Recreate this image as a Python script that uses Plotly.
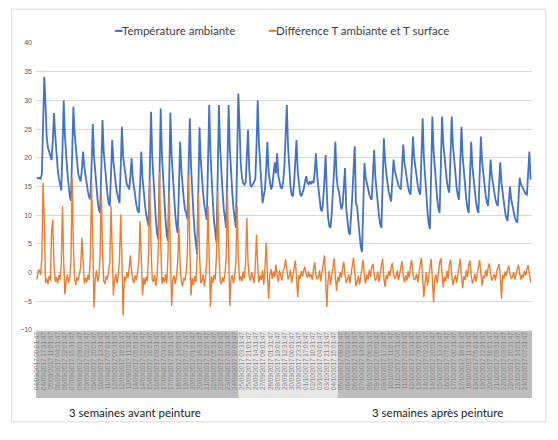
import pandas as pd
import plotly.graph_objects as go

# Relevés toutes les 3 h (heure dans la journée), une ligne = un jour
debut = pd.Timestamp("2017-09-04 00:01:47")
heures_releve = [0, 3, 6, 9, 12, 15, 18, 21]

# Température ambiante (°C)
temp_ambiante = [
    16.6, 16.4, 16.5, 16.3, 17.2, 24.0, 34.1, 29.5,
    23.5, 21.8, 20.9, 20.2, 19.6, 23.0, 27.8, 24.0,
    20.4, 18.2, 16.5, 15.0, 14.3, 21.5, 30.0, 23.9,
    20.1, 17.6, 15.4, 13.3, 12.5, 20.0, 28.9, 24.3,
    21.6, 19.5, 17.2, 16.4, 15.9, 18.0, 21.1, 18.4,
    16.6, 15.2, 14.1, 13.1, 12.8, 18.5, 25.9, 20.3,
    17.2, 14.8, 12.6, 11.0, 10.4, 18.0, 26.6, 21.0,
    18.2, 16.0, 13.8, 12.1, 11.6, 17.0, 23.1, 19.4,
    17.0, 15.3, 13.9, 12.6, 12.1, 18.3, 25.4, 20.2,
    18.5, 16.8, 15.4, 15.0, 14.5, 16.8, 19.9, 16.4,
    14.6, 13.0, 11.7, 10.8, 10.4, 15.5, 21.1, 16.5,
    13.8, 11.9, 10.2, 8.8, 8.1, 17.5, 28.0, 20.2,
    15.6, 12.3, 9.2, 6.8, 5.8, 16.5, 28.6, 20.5,
    15.8, 12.2, 9.1, 6.6, 5.5, 16.0, 27.9, 20.4,
    16.2, 13.0, 10.2, 8.0, 6.9, 14.3, 22.8, 18.0,
    15.0, 12.8, 11.0, 10.4, 9.3, 17.2, 26.9, 18.6,
    13.6, 10.2, 6.9, 4.4, 3.2, 14.0, 25.3, 19.7,
    16.2, 13.8, 11.7, 10.0, 9.2, 19.0, 29.2, 20.8,
    15.8, 12.3, 8.9, 6.3, 5.2, 17.0, 29.2, 21.7,
    17.2, 14.1, 11.1, 8.8, 7.8, 18.5, 29.2, 21.7,
    17.3, 14.0, 11.2, 8.9, 7.8, 19.5, 31.2, 25.7,
    19.0, 16.6, 15.6, 15.3, 15.6, 20.0, 24.9, 18.0,
    15.2, 15.0, 15.4, 15.8, 16.2, 22.0, 30.0, 22.5,
    18.5, 14.6, 12.1, 13.4, 14.6, 18.2, 22.8, 17.4,
    15.6, 14.5, 15.1, 16.8, 19.2, 17.3, 20.8, 16.9,
    15.4, 14.8, 14.7, 15.8, 18.5, 24.0, 29.2, 22.0,
    17.4, 15.1, 13.5, 13.3, 15.6, 19.0, 23.1, 17.6,
    14.9, 13.7, 13.3, 13.9, 14.6, 15.9, 16.8, 15.6,
    15.4, 15.9, 15.4, 16.0, 15.6, 17.6, 20.8, 16.8,
    14.6, 12.4, 11.0, 10.7, 12.6, 16.2, 20.5, 13.8,
    9.6, 8.1, 7.8, 10.2, 13.6, 18.0, 22.8, 16.8,
    14.8, 14.2, 12.4, 11.0, 11.8, 15.2, 18.2, 11.2,
    8.6, 7.1, 6.6, 9.4, 13.4, 17.8, 22.0, 12.0,
    11.5, 8.8, 6.2, 4.4, 3.6, 11.3, 19.1, 16.6,
    15.4, 14.5, 13.6, 13.0, 12.7, 17.0, 21.4, 16.6,
    13.8, 11.9, 9.9, 8.4, 7.8, 15.5, 23.4, 19.5,
    17.2, 15.6, 14.1, 12.9, 12.4, 16.0, 19.7, 17.8,
    16.9, 16.0, 15.2, 14.8, 14.5, 18.3, 22.3, 19.2,
    17.4, 16.1, 14.9, 14.0, 13.6, 18.6, 23.7, 20.1,
    18.0, 16.5, 15.1, 14.1, 13.6, 20.2, 26.9, 20.1,
    16.2, 13.3, 10.6, 8.5, 7.6, 17.4, 27.2, 21.3,
    17.9, 15.3, 12.9, 11.1, 10.4, 18.8, 27.2, 22.5,
    19.8, 17.8, 15.9, 14.6, 13.9, 20.5, 27.2, 22.1,
    19.2, 17.0, 14.9, 13.4, 12.7, 19.0, 25.4, 20.2,
    17.1, 14.9, 12.7, 11.1, 10.4, 16.6, 22.8, 18.5,
    15.9, 14.1, 12.3, 11.0, 10.4, 17.0, 23.7, 19.4,
    17.0, 15.2, 13.4, 12.2, 11.6, 15.6, 19.7, 16.8,
    15.2, 14.0, 12.8, 12.0, 11.6, 15.4, 19.2, 15.6,
    13.5, 12.0, 10.5, 9.5, 9.0, 12.0, 15.0, 12.8,
    11.5, 10.6, 9.6, 9.0, 8.7, 12.6, 16.5, 15.4,
    14.9, 14.4, 14.0, 13.7, 13.6, 17.3, 21.1, 16.2,
]

# Différence T ambiante - T surface (°C)
diff_temp = [
    -1.2, 0.3, 0.5, -0.4, 2.5, 15.6, 9.0, -1.8,
    -1.0, -2.0, -0.6, -1.4, 7.2, 9.2, 1.2, -1.6,
    -0.8, -1.9, -0.5, -1.2, 1.5, 11.6, 2.0, -3.8,
    -1.5, -0.3, -1.8, -0.9, 2.2, 16.5, 4.5, -1.1,
    -2.2, -0.8, -1.4, 0.2, 1.0, 6.1, 0.8, -1.9,
    -0.9, -1.7, -0.4, -1.3, 3.0, 15.6, 5.2, -6.1,
    -1.1, 0.4, -1.6, -0.7, 2.8, 14.5, 3.5, -1.4,
    -2.0, -0.6, -1.2, 0.3, 1.6, 11.6, 1.9, -4.0,
    -1.3, -0.2, -1.9, -0.5, 2.4, 10.1, 2.6, -7.5,
    -0.7, -1.5, 0.1, -1.0, 0.8, 3.0, 0.4, -1.2,
    -1.8, -0.5, -1.3, 0.2, 1.8, 9.0, 1.5, -4.0,
    -0.9, -2.1, -0.7, -1.5, 3.5, 16.2, 4.8, -1.3,
    -1.6, -0.4, -2.3, -0.8, 4.0, 17.5, 5.5, -2.0,
    -0.8, -1.7, -0.3, -1.9, 2.6, 14.2, 3.0, -5.8,
    -1.2, -0.5, -2.0, -0.6, 1.9, 8.0, 1.3, -1.6,
    -2.4, -0.9, -1.4, 0.1, 3.2, 17.0, 4.9, -4.0,
    -1.0, -2.2, -0.6, -1.7, 2.9, 13.9, 3.4, -1.8,
    -1.5, -0.3, -2.4, -0.9, 2.2, 11.6, 2.5, -6.0,
    -0.7, -1.8, -0.4, -1.2, 3.1, 14.2, 3.9, -1.5,
    -2.0, -0.8, -1.6, -0.2, 2.7, 14.2, 3.6, -5.8,
    -1.1, -0.4, -1.9, -0.6, 2.0, 11.6, 2.8, -1.4,
    -0.6, -1.5, 0.2, -1.0, 1.6, 9.5, 1.8, -0.8,
    -1.4, 0.1, -0.9, -1.8, 1.2, 6.6, 1.0, -1.7,
    -0.5, -1.3, 0.4, -2.1, 0.9, 5.2, -0.3, -4.6,
    -0.3, 0.6, -1.1, 0.2, -0.8, 1.4, -0.5, -1.6,
    0.4, -0.7, -1.4, 0.3, 0.9, 2.3, -0.2, -1.2,
    -0.6, 0.5, -1.8, -0.3, 0.7, 2.1, -0.9, -4.3,
    -0.4, -1.1, 0.3, -0.7, 0.5, 1.0, -0.3, -0.9,
    0.2, -0.8, -0.3, -1.3, 0.6, 1.8, -0.4, -1.1,
    -0.9, 0.4, -1.5, -0.2, 1.1, 3.0, -1.2, -6.0,
    -1.4, 0.3, -2.2, -0.5, 1.3, 2.5, -0.8, -3.2,
    -0.7, -1.6, 0.1, -0.9, 0.8, 1.9, -0.4, -1.8,
    -1.2, -0.3, -1.9, 0.2, 1.2, 2.6, -0.6, -2.4,
    -1.6, -0.5, -2.1, -0.4, 0.9, 2.2, -0.7, -1.9,
    -0.3, -1.2, 0.5, -0.8, 1.0, 1.5, -0.2, -1.4,
    -1.0, 0.2, -1.6, -0.5, 1.4, 2.4, -0.9, -2.5,
    -0.4, -1.1, 0.3, -0.6, 0.9, 1.7, -0.3, -1.0,
    -0.8, 0.4, -1.3, -0.2, 1.1, 2.0, -0.6, -1.7,
    -0.5, -1.4, 0.2, -0.9, 1.3, 2.2, -0.4, -1.3,
    -1.1, -0.2, -1.7, 0.3, 1.5, 2.6, -1.0, -4.3,
    -1.8, 0.1, -2.3, -0.6, 1.2, 2.4, -1.1, -5.2,
    -1.0, -0.3, -1.9, 0.2, 1.6, 2.5, -0.8, -2.6,
    -0.7, -1.5, 0.3, -1.1, 1.4, 2.3, -0.5, -2.2,
    -1.2, -0.4, -1.8, -0.2, 1.1, 2.4, -0.7, -2.7,
    -0.6, -1.3, 0.4, -0.8, 1.3, 2.1, -0.4, -1.9,
    -1.3, -0.2, -1.6, 0.1, 1.0, 2.2, -0.6, -2.3,
    -0.5, -1.0, 0.5, -0.7, 0.9, 1.6, -0.2, -1.4,
    -0.9, -0.3, -1.4, 0.2, 0.8, 1.5, -0.5, -4.6,
    -0.4, -1.1, 0.2, -0.6, 0.6, 1.2, -0.3, -1.0,
    -0.8, 0.1, -1.2, -0.4, 0.7, 1.4, -0.2, -1.2,
    -0.3, -0.9, 0.3, -0.5, 0.6, 1.3, -0.1, -1.6,
]

etiquettes_x = [
    "04/09/2017 00:01:47", "04/09/2017 17:31:47", "05/09/2017 11:01:47", "06/09/2017 04:31:47",
    "06/09/2017 22:01:47", "07/09/2017 15:31:47", "08/09/2017 09:01:47", "09/09/2017 02:31:47",
    "09/09/2017 20:01:47", "10/09/2017 13:31:47", "11/09/2017 07:01:47", "12/09/2017 00:31:47",
    "12/09/2017 18:01:47", "13/09/2017 11:31:47", "14/09/2017 05:01:47", "14/09/2017 22:31:47",
    "15/09/2017 16:01:47", "16/09/2017 09:31:47", "17/09/2017 03:01:47", "17/09/2017 20:31:47",
    "18/09/2017 14:01:47", "19/09/2017 07:31:47", "20/09/2017 01:01:47", "20/09/2017 18:31:47",
    "21/09/2017 12:01:47", "22/09/2017 05:31:47", "22/09/2017 23:01:47", "23/09/2017 16:31:47",
    "24/09/2017 10:01:47", "25/09/2017 03:31:47", "25/09/2017 21:01:47", "26/09/2017 14:31:47",
    "27/09/2017 08:01:47", "28/09/2017 01:31:47", "28/09/2017 19:01:47", "29/09/2017 12:31:47",
    "30/09/2017 06:01:47", "30/09/2017 23:31:47", "01/10/2017 17:01:47", "02/10/2017 10:31:47",
    "03/10/2017 04:01:47", "03/10/2017 21:31:47", "04/10/2017 15:01:47", "05/10/2017 08:31:47",
    "06/10/2017 02:01:47", "06/10/2017 19:31:47", "07/10/2017 13:01:47", "08/10/2017 06:31:47",
    "09/10/2017 00:01:47", "09/10/2017 17:31:47", "10/10/2017 11:01:47", "11/10/2017 04:31:47",
    "11/10/2017 22:01:47", "12/10/2017 15:31:47", "13/10/2017 09:01:47", "14/10/2017 02:31:47",
    "14/10/2017 20:01:47", "15/10/2017 13:31:47", "16/10/2017 07:01:47", "17/10/2017 00:31:47",
    "17/10/2017 18:01:47", "18/10/2017 11:31:47", "19/10/2017 05:01:47", "19/10/2017 22:31:47",
    "20/10/2017 16:01:47", "21/10/2017 09:31:47", "22/10/2017 03:01:47", "22/10/2017 20:31:47",
    "23/10/2017 14:01:47", "24/10/2017 07:31:47",
]

# premiers libellés de la période "pendant peinture" et "après peinture"
debut_transition = "25/09/2017 03:31:47"
debut_apres = "05/10/2017 08:31:47"

noms_series = ["Température ambiante", "Différence T ambiante et T surface"]
couleurs = ["#4472C4", "#ED7D31"]

# horodatage des relevés
nb_jours = len(temp_ambiante) // len(heures_releve)
temps = [debut + pd.Timedelta(hours=24 * j + h) for j in range(nb_jours) for h in heures_releve]

ticks = pd.to_datetime(etiquettes_x, format="%d/%m/%Y %H:%M:%S")
demi_pas = (ticks[1] - ticks[0]) / 2
x_min = debut - pd.Timedelta(hours=2.5)
x_max = temps[-1] + pd.Timedelta(hours=3.5)
b1 = pd.to_datetime(debut_transition, format="%d/%m/%Y %H:%M:%S") - demi_pas
b2 = pd.to_datetime(debut_apres, format="%d/%m/%Y %H:%M:%S") - demi_pas

fig = go.Figure()
fig.add_trace(go.Scatter(
    x=temps, y=temp_ambiante, mode="lines", name=noms_series[0],
    line=dict(color=couleurs[0], width=1.8), showlegend=False
))
fig.add_trace(go.Scatter(
    x=temps, y=diff_temp, mode="lines", name=noms_series[1],
    line=dict(color=couleurs[1], width=1.4), showlegend=False
))

# bandes grises sous l'axe
bandes = [(x_min, b1, "#BDBDBD"), (b1, b2, "#E6E6E6"), (b2, x_max, "#BDBDBD")]
for x0, x1, couleur in bandes:
    fig.add_shape(type="rect", xref="x", yref="paper", x0=x0, x1=x1, y0=-0.237, y1=-0.003,
                  fillcolor=couleur, line_width=0, layer="below")

# cadre du graphique
fig.add_shape(type="rect", xref="paper", yref="paper", x0=-0.049, x1=1.028, y0=-0.32, y1=1.118,
              line=dict(color="#D9D9D9", width=1), fillcolor="rgba(0,0,0,0)")

# légende en haut
for nom, couleur, xl in zip(noms_series, couleurs, [0.28, 0.65]):
    fig.add_annotation(
        text=f"<span style='color:{couleur}'>━</span>{nom}", xref="paper", yref="paper",
        x=xl, y=1.042, xanchor="center", yanchor="middle", showarrow=False,
        font=dict(size=11.5, color="#404040")
    )

for texte, xt in [("3 semaines avant peinture", 0.2), ("3 semaines après peinture", 0.81)]:
    fig.add_annotation(text=texte, xref="paper", yref="paper", x=xt, y=-0.286,
                       xanchor="center", yanchor="middle", showarrow=False,
                       font=dict(size=11.5, color="#1a1a1a"))

# la page ajoute 8 px de marge : la figure est réduite d'autant
fig.update_layout(
    width=550, height=432,
    margin=dict(l=28, r=26, t=35, b=110),
    paper_bgcolor="white", plot_bgcolor="white",
    font=dict(family="Lato, Liberation Sans, Arial, sans-serif", color="#595959"),
    showlegend=False,
)
fig.update_xaxes(
    type="date", range=[x_min, x_max], showgrid=False, zeroline=False, showline=False,
    tickmode="array", tickvals=ticks, ticktext=etiquettes_x, tickangle=-90,
    tickfont=dict(family="Liberation Sans, Arial", size=6.3, color="#858585"), ticks="",
)
fig.update_yaxes(
    range=[-10, 40], dtick=5, showgrid=True, gridcolor="#D9D9D9", gridwidth=1,
    zeroline=False, showline=False, tickfont=dict(family="Liberation Sans, Arial", size=7, color="#595959"),
    ticks="", ticklabelstandoff=3,
)

fig.write_html("out.html")
